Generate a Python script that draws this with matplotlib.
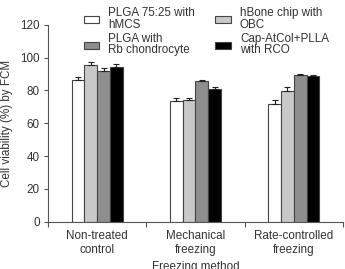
import numpy as np
import matplotlib.pyplot as plt

plt.rcParams['font.family'] = ['Liberation Sans', 'DejaVu Sans']

groups = ["Non-treated\ncontrol", "Mechanical\nfreezing", "Rate-controlled\nfreezing"]
series = ["PLGA 75:25 with\nhMCS", "PLGA with\nRb chondrocyte",
          "hBone chip with\nOBC", "Cap-AtCol+PLLA\nwith RCO"]

# mean viability (%) per series, one value per freezing method
plga_hmcs = [86.5, 73.5, 72.0]
plga_rb = [92.0, 85.5, 89.5]
hbone_obc = [95.5, 74.0, 79.5]
cap_rco = [94.5, 81.0, 89.0]

err_plga_hmcs = [1.5, 2.0, 2.0]
err_plga_rb = [1.5, 0.7, 0.5]
err_hbone_obc = [2.0, 1.5, 2.5]
err_cap_rco = [1.5, 1.0, 0.6]

txt = '#333333'
edge = '#444444'
fs = 8.4

fig = plt.figure(figsize=(3.45, 2.69), dpi=100)
ax = fig.add_axes([0.139, 0.176, 0.855, 0.732])

x = np.arange(len(groups))
w = 0.13
# plotting order left to right inside a group
bars = [
    (plga_hmcs, err_plga_hmcs, 'white', series[0]),
    (hbone_obc, err_hbone_obc, '#c8c8c8', series[2]),
    (plga_rb, err_plga_rb, '#8e8e8e', series[1]),
    (cap_rco, err_cap_rco, 'black', series[3]),
]
handles = {}
for i, (vals, errs, col, lab) in enumerate(bars):
    b = ax.bar(x + (i - 1.5) * w, vals, w, color=col, edgecolor=edge, linewidth=0.8,
               label=lab, zorder=2)
    ax.errorbar(x + (i - 1.5) * w, vals, yerr=[np.zeros(3), errs], fmt='none',
                ecolor='#222222', elinewidth=0.8, capsize=2.5, capthick=0.8, zorder=3)
    handles[lab] = b

ax.set_xlim(-0.5, 2.5)
ax.set_ylim(0, 120)
ax.set_yticks([0, 20, 40, 60, 80, 100, 120])
ax.set_xticks(x)
ax.set_xticklabels(groups)
ax.set_xticks([-0.5, 0.5, 1.5, 2.5], minor=True)
ax.tick_params(axis='x', which='major', length=0, pad=6)
ax.tick_params(axis='x', which='minor', length=3.5, width=0.8, color='#555555')
ax.tick_params(axis='y', length=3, width=0.8, color='#555555', pad=3)
ax.tick_params(labelsize=fs, labelcolor=txt)
for s in ['top', 'right']:
    ax.spines[s].set_visible(False)
for s in ['left', 'bottom']:
    ax.spines[s].set_color('#555555')
    ax.spines[s].set_linewidth(0.8)

ax.set_ylabel("Cell viability (%) by FCM", fontsize=fs, color=txt, labelpad=5)
ax.set_xlabel("Freezing method", fontsize=fs, color=txt, labelpad=4)

order = [series[0], series[1], series[2], series[3]]
leg = fig.legend([handles[s] for s in order], order, loc='upper left',
                 bbox_to_anchor=(0.222, 1.0), ncol=2, frameon=False, fontsize=fs,
                 handlelength=1.35, handleheight=0.55, handletextpad=0.75,
                 columnspacing=1.75, labelspacing=0.2, borderpad=0.1,
                 labelcolor=txt)
for t in leg.get_texts():
    t.set_linespacing(0.95)

fig.savefig('out.png', dpi=100)
